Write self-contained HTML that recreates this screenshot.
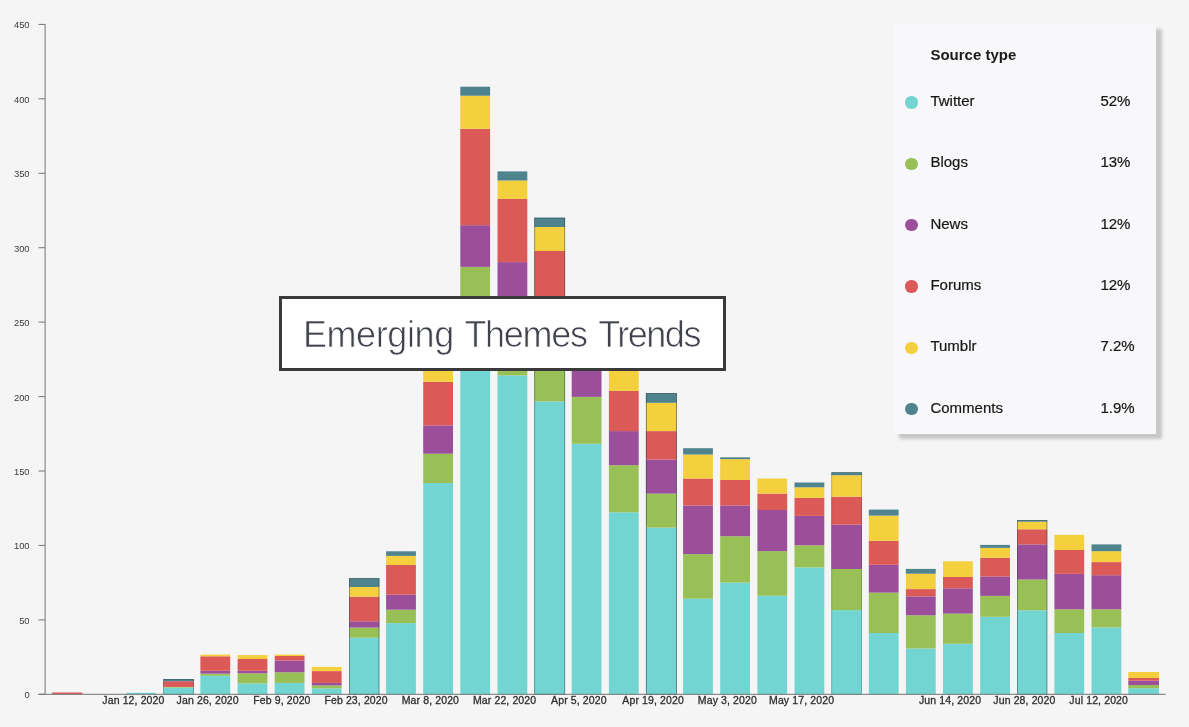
<!DOCTYPE html>
<html lang="en">
<head>
<meta charset="utf-8">
<title>Emerging Themes Trends</title>
<style>
html,body{margin:0;padding:0}
body{width:1189px;height:727px;overflow:hidden;background:#f5f5f5;position:relative;font-family:"Liberation Sans",sans-serif}
.yl{font-family:"Liberation Sans",sans-serif;font-size:9.4px;fill:#3a3a3a}
.xl{font-family:"Liberation Sans",sans-serif;font-size:10.5px;fill:#2f2f2f;letter-spacing:0.12px;stroke:#2f2f2f;stroke-width:0.3px}
#legend{position:absolute;left:893px;top:24px;width:263px;height:410px;background:#f8f8fa;box-shadow:6px 5px 3px rgba(0,0,0,0.19)}
#legend h3{position:absolute;left:37.4px;top:22px;margin:0;font-size:15px;line-height:18px;font-weight:bold;color:#1a1a1a}
.row{position:absolute;left:0;width:263px;height:20px;line-height:20px;font-size:15px;color:#161616;-webkit-text-stroke:0.2px #161616}
.dot{position:absolute;left:12.2px;top:5.4px;width:12.4px;height:12.4px;border-radius:50%}
.nm{position:absolute;left:37.4px;top:0}
.pc{position:absolute;left:207.4px;top:0}
#title{position:absolute;left:279px;top:296px;width:441px;height:69px;border:3px solid #3a3a3a;background:#fff;}
#title span{position:absolute;top:15px;font-size:36px;line-height:normal;color:#40434d;white-space:nowrap;-webkit-text-stroke:0.7px #fff}
</style>
</head>
<body>
<svg width="1189" height="727" viewBox="0 0 1189 727" style="position:absolute;left:0;top:0">
<rect x="52.1" y="692.5" width="30.3" height="1.8" fill="#db5957"/>
<rect x="126.2" y="692.8" width="29.8" height="1.5" fill="#72d5d2"/>
<rect x="163.2" y="687.6" width="30.8" height="6.7" fill="#72d5d2"/>
<rect x="163.2" y="686.9" width="30.8" height="0.7" fill="#98c056"/>
<rect x="163.2" y="681.2" width="30.8" height="5.7" fill="#db5957"/>
<rect x="163.2" y="679.0" width="30.8" height="2.2" fill="#4f838e"/>
<rect x="163.6" y="679.4" width="30.0" height="14.9" fill="none" stroke="#33474d" stroke-width="0.8" stroke-opacity="0.45"/>
<rect x="200.4" y="675.7" width="29.8" height="18.6" fill="#72d5d2"/>
<rect x="200.4" y="673.6" width="29.8" height="2.1" fill="#98c056"/>
<rect x="200.4" y="670.8" width="29.8" height="2.8" fill="#9b4f9b"/>
<rect x="200.4" y="656.3" width="29.8" height="14.5" fill="#db5957"/>
<rect x="200.4" y="654.6" width="29.8" height="1.7" fill="#f4d03f"/>
<rect x="237.6" y="683.4" width="29.8" height="10.9" fill="#72d5d2"/>
<rect x="237.6" y="673.3" width="29.8" height="10.1" fill="#98c056"/>
<rect x="237.6" y="670.8" width="29.8" height="2.5" fill="#9b4f9b"/>
<rect x="237.6" y="659.0" width="29.8" height="11.8" fill="#db5957"/>
<rect x="237.6" y="655.1" width="29.8" height="3.9" fill="#f4d03f"/>
<rect x="274.7" y="682.9" width="29.8" height="11.4" fill="#72d5d2"/>
<rect x="274.7" y="672.3" width="29.8" height="10.6" fill="#98c056"/>
<rect x="274.7" y="660.5" width="29.8" height="11.8" fill="#9b4f9b"/>
<rect x="274.7" y="656.0" width="29.8" height="4.5" fill="#db5957"/>
<rect x="274.7" y="654.6" width="29.8" height="1.4" fill="#f4d03f"/>
<rect x="311.8" y="688.4" width="29.8" height="5.9" fill="#72d5d2"/>
<rect x="311.8" y="685.4" width="29.8" height="3.0" fill="#98c056"/>
<rect x="311.8" y="682.9" width="29.8" height="2.5" fill="#9b4f9b"/>
<rect x="311.8" y="671.1" width="29.8" height="11.8" fill="#db5957"/>
<rect x="311.8" y="666.9" width="29.8" height="4.2" fill="#f4d03f"/>
<rect x="349.0" y="637.7" width="30.4" height="56.6" fill="#72d5d2"/>
<rect x="349.0" y="627.6" width="30.4" height="10.1" fill="#98c056"/>
<rect x="349.0" y="621.3" width="30.4" height="6.3" fill="#9b4f9b"/>
<rect x="349.0" y="596.6" width="30.4" height="24.7" fill="#db5957"/>
<rect x="349.0" y="587.0" width="30.4" height="9.6" fill="#f4d03f"/>
<rect x="349.0" y="578.2" width="30.4" height="8.8" fill="#4f838e"/>
<rect x="349.4" y="578.6" width="29.6" height="115.7" fill="none" stroke="#33474d" stroke-width="0.8" stroke-opacity="0.6"/>
<rect x="386.1" y="623.1" width="29.8" height="71.2" fill="#72d5d2"/>
<rect x="386.1" y="609.7" width="29.8" height="13.4" fill="#98c056"/>
<rect x="386.1" y="594.6" width="29.8" height="15.1" fill="#9b4f9b"/>
<rect x="386.1" y="565.0" width="29.8" height="29.6" fill="#db5957"/>
<rect x="386.1" y="555.9" width="29.8" height="9.1" fill="#f4d03f"/>
<rect x="386.1" y="551.3" width="29.8" height="4.6" fill="#4f838e"/>
<rect x="423.2" y="483.0" width="29.8" height="211.3" fill="#72d5d2"/>
<rect x="423.2" y="453.7" width="29.8" height="29.3" fill="#98c056"/>
<rect x="423.2" y="425.4" width="29.8" height="28.3" fill="#9b4f9b"/>
<rect x="423.2" y="381.8" width="29.8" height="43.6" fill="#db5957"/>
<rect x="423.2" y="340.0" width="29.8" height="41.8" fill="#f4d03f"/>
<rect x="423.2" y="335.0" width="29.8" height="5.0" fill="#4f838e"/>
<rect x="460.3" y="330.0" width="29.8" height="364.3" fill="#72d5d2"/>
<rect x="460.3" y="266.9" width="29.8" height="63.1" fill="#98c056"/>
<rect x="460.3" y="225.2" width="29.8" height="41.7" fill="#9b4f9b"/>
<rect x="460.3" y="128.8" width="29.8" height="96.4" fill="#db5957"/>
<rect x="460.3" y="95.7" width="29.8" height="33.1" fill="#f4d03f"/>
<rect x="460.3" y="86.7" width="29.8" height="9.0" fill="#4f838e"/>
<rect x="497.5" y="375.4" width="29.8" height="318.9" fill="#72d5d2"/>
<rect x="497.5" y="330.0" width="29.8" height="45.4" fill="#98c056"/>
<rect x="497.5" y="262.1" width="29.8" height="67.9" fill="#9b4f9b"/>
<rect x="497.5" y="198.9" width="29.8" height="63.2" fill="#db5957"/>
<rect x="497.5" y="180.5" width="29.8" height="18.4" fill="#f4d03f"/>
<rect x="497.5" y="171.4" width="29.8" height="9.1" fill="#4f838e"/>
<rect x="534.3" y="401.4" width="30.8" height="292.9" fill="#72d5d2"/>
<rect x="534.3" y="345.0" width="30.8" height="56.4" fill="#98c056"/>
<rect x="534.3" y="320.0" width="30.8" height="25.0" fill="#9b4f9b"/>
<rect x="534.3" y="251.0" width="30.8" height="69.0" fill="#db5957"/>
<rect x="534.3" y="227.0" width="30.8" height="24.0" fill="#f4d03f"/>
<rect x="534.3" y="217.7" width="30.8" height="9.3" fill="#4f838e"/>
<rect x="534.7" y="218.1" width="30.0" height="476.2" fill="none" stroke="#33474d" stroke-width="0.8" stroke-opacity="0.6"/>
<rect x="571.7" y="443.8" width="29.8" height="250.5" fill="#72d5d2"/>
<rect x="571.7" y="396.9" width="29.8" height="46.9" fill="#98c056"/>
<rect x="571.7" y="355.0" width="29.8" height="41.9" fill="#9b4f9b"/>
<rect x="571.7" y="330.0" width="29.8" height="25.0" fill="#db5957"/>
<rect x="571.7" y="315.0" width="29.8" height="15.0" fill="#f4d03f"/>
<rect x="571.7" y="310.0" width="29.8" height="5.0" fill="#4f838e"/>
<rect x="608.9" y="512.3" width="29.8" height="182.0" fill="#72d5d2"/>
<rect x="608.9" y="465.2" width="29.8" height="47.1" fill="#98c056"/>
<rect x="608.9" y="431.1" width="29.8" height="34.1" fill="#9b4f9b"/>
<rect x="608.9" y="390.9" width="29.8" height="40.2" fill="#db5957"/>
<rect x="608.9" y="350.0" width="29.8" height="40.9" fill="#f4d03f"/>
<rect x="608.9" y="345.0" width="29.8" height="5.0" fill="#4f838e"/>
<rect x="645.9" y="527.6" width="30.9" height="166.7" fill="#72d5d2"/>
<rect x="645.9" y="493.6" width="30.9" height="34.0" fill="#98c056"/>
<rect x="645.9" y="459.6" width="30.9" height="34.0" fill="#9b4f9b"/>
<rect x="645.9" y="431.1" width="30.9" height="28.5" fill="#db5957"/>
<rect x="645.9" y="402.8" width="30.9" height="28.3" fill="#f4d03f"/>
<rect x="645.9" y="393.2" width="30.9" height="9.6" fill="#4f838e"/>
<rect x="646.3" y="393.6" width="30.1" height="300.7" fill="none" stroke="#33474d" stroke-width="0.8" stroke-opacity="0.7"/>
<rect x="683.1" y="598.7" width="29.8" height="95.6" fill="#72d5d2"/>
<rect x="683.1" y="554.1" width="29.8" height="44.6" fill="#98c056"/>
<rect x="683.1" y="505.5" width="29.8" height="48.6" fill="#9b4f9b"/>
<rect x="683.1" y="478.5" width="29.8" height="27.0" fill="#db5957"/>
<rect x="683.1" y="454.5" width="29.8" height="24.0" fill="#f4d03f"/>
<rect x="683.1" y="448.2" width="29.8" height="6.3" fill="#4f838e"/>
<rect x="720.2" y="582.6" width="29.8" height="111.7" fill="#72d5d2"/>
<rect x="720.2" y="536.2" width="29.8" height="46.4" fill="#98c056"/>
<rect x="720.2" y="505.5" width="29.8" height="30.7" fill="#9b4f9b"/>
<rect x="720.2" y="480.0" width="29.8" height="25.5" fill="#db5957"/>
<rect x="720.2" y="459.1" width="29.8" height="20.9" fill="#f4d03f"/>
<rect x="720.2" y="457.3" width="29.8" height="1.8" fill="#4f838e"/>
<rect x="757.4" y="595.7" width="29.8" height="98.6" fill="#72d5d2"/>
<rect x="757.4" y="551.1" width="29.8" height="44.6" fill="#98c056"/>
<rect x="757.4" y="510.0" width="29.8" height="41.1" fill="#9b4f9b"/>
<rect x="757.4" y="493.6" width="29.8" height="16.4" fill="#db5957"/>
<rect x="757.4" y="478.5" width="29.8" height="15.1" fill="#f4d03f"/>
<rect x="794.5" y="567.4" width="29.8" height="126.9" fill="#72d5d2"/>
<rect x="794.5" y="545.3" width="29.8" height="22.1" fill="#98c056"/>
<rect x="794.5" y="515.9" width="29.8" height="29.4" fill="#9b4f9b"/>
<rect x="794.5" y="497.9" width="29.8" height="18.0" fill="#db5957"/>
<rect x="794.5" y="487.3" width="29.8" height="10.6" fill="#f4d03f"/>
<rect x="794.5" y="482.5" width="29.8" height="4.8" fill="#4f838e"/>
<rect x="831.3" y="610.1" width="30.7" height="84.2" fill="#72d5d2"/>
<rect x="831.3" y="569.0" width="30.7" height="41.1" fill="#98c056"/>
<rect x="831.3" y="524.6" width="30.7" height="44.4" fill="#9b4f9b"/>
<rect x="831.3" y="496.7" width="30.7" height="27.9" fill="#db5957"/>
<rect x="831.3" y="475.2" width="30.7" height="21.5" fill="#f4d03f"/>
<rect x="831.3" y="472.2" width="30.7" height="3.0" fill="#4f838e"/>
<rect x="831.7" y="472.6" width="29.9" height="221.7" fill="none" stroke="#33474d" stroke-width="0.8" stroke-opacity="0.35"/>
<rect x="868.8" y="633.0" width="29.8" height="61.3" fill="#72d5d2"/>
<rect x="868.8" y="592.6" width="29.8" height="40.4" fill="#98c056"/>
<rect x="868.8" y="564.8" width="29.8" height="27.8" fill="#9b4f9b"/>
<rect x="868.8" y="540.9" width="29.8" height="23.9" fill="#db5957"/>
<rect x="868.8" y="515.6" width="29.8" height="25.3" fill="#f4d03f"/>
<rect x="868.8" y="509.6" width="29.8" height="6.0" fill="#4f838e"/>
<rect x="905.9" y="648.4" width="29.8" height="45.9" fill="#72d5d2"/>
<rect x="905.9" y="615.3" width="29.8" height="33.1" fill="#98c056"/>
<rect x="905.9" y="596.4" width="29.8" height="18.9" fill="#9b4f9b"/>
<rect x="905.9" y="589.1" width="29.8" height="7.3" fill="#db5957"/>
<rect x="905.9" y="573.7" width="29.8" height="15.4" fill="#f4d03f"/>
<rect x="905.9" y="568.9" width="29.8" height="4.8" fill="#4f838e"/>
<rect x="943.0" y="643.8" width="29.8" height="50.5" fill="#72d5d2"/>
<rect x="943.0" y="613.6" width="29.8" height="30.2" fill="#98c056"/>
<rect x="943.0" y="588.3" width="29.8" height="25.3" fill="#9b4f9b"/>
<rect x="943.0" y="577.0" width="29.8" height="11.3" fill="#db5957"/>
<rect x="943.0" y="561.3" width="29.8" height="15.7" fill="#f4d03f"/>
<rect x="980.2" y="616.8" width="29.8" height="77.5" fill="#72d5d2"/>
<rect x="980.2" y="595.9" width="29.8" height="20.9" fill="#98c056"/>
<rect x="980.2" y="576.5" width="29.8" height="19.4" fill="#9b4f9b"/>
<rect x="980.2" y="557.8" width="29.8" height="18.7" fill="#db5957"/>
<rect x="980.2" y="547.9" width="29.8" height="9.9" fill="#f4d03f"/>
<rect x="980.2" y="544.9" width="29.8" height="3.0" fill="#4f838e"/>
<rect x="1017.0" y="610.3" width="30.3" height="84.0" fill="#72d5d2"/>
<rect x="1017.0" y="579.5" width="30.3" height="30.8" fill="#98c056"/>
<rect x="1017.0" y="544.4" width="30.3" height="35.1" fill="#9b4f9b"/>
<rect x="1017.0" y="529.3" width="30.3" height="15.1" fill="#db5957"/>
<rect x="1017.0" y="521.7" width="30.3" height="7.6" fill="#f4d03f"/>
<rect x="1017.0" y="520.2" width="30.3" height="1.5" fill="#4f838e"/>
<rect x="1017.4" y="520.6" width="29.5" height="173.7" fill="none" stroke="#33474d" stroke-width="0.8" stroke-opacity="0.6"/>
<rect x="1054.4" y="633.0" width="29.8" height="61.3" fill="#72d5d2"/>
<rect x="1054.4" y="609.3" width="29.8" height="23.7" fill="#98c056"/>
<rect x="1054.4" y="573.9" width="29.8" height="35.4" fill="#9b4f9b"/>
<rect x="1054.4" y="550.0" width="29.8" height="23.9" fill="#db5957"/>
<rect x="1054.4" y="534.8" width="29.8" height="15.2" fill="#f4d03f"/>
<rect x="1091.5" y="627.4" width="29.8" height="66.9" fill="#72d5d2"/>
<rect x="1091.5" y="609.3" width="29.8" height="18.1" fill="#98c056"/>
<rect x="1091.5" y="575.2" width="29.8" height="34.1" fill="#9b4f9b"/>
<rect x="1091.5" y="562.1" width="29.8" height="13.1" fill="#db5957"/>
<rect x="1091.5" y="551.2" width="29.8" height="10.9" fill="#f4d03f"/>
<rect x="1091.5" y="544.4" width="29.8" height="6.8" fill="#4f838e"/>
<rect x="1128.3" y="688.2" width="30.7" height="6.1" fill="#72d5d2"/>
<rect x="1128.3" y="685.1" width="30.7" height="3.1" fill="#98c056"/>
<rect x="1128.3" y="680.7" width="30.7" height="4.4" fill="#9b4f9b"/>
<rect x="1128.3" y="678.0" width="30.7" height="2.7" fill="#db5957"/>
<rect x="1128.3" y="672.0" width="30.7" height="6.0" fill="#f4d03f"/>
<rect x="44.6" y="24" width="1" height="670.8" fill="#757575"/>
<rect x="38.5" y="693.8" width="1127.2" height="1" fill="#757575"/>
<rect x="38.5" y="693.8" width="6.5" height="1" fill="#757575"/>
<text x="29.6" y="698.2" text-anchor="end" class="yl">0</text>
<rect x="38.5" y="619.4" width="6.5" height="1" fill="#757575"/>
<text x="29.6" y="623.8" text-anchor="end" class="yl">50</text>
<rect x="38.5" y="544.9" width="6.5" height="1" fill="#757575"/>
<text x="29.6" y="549.3" text-anchor="end" class="yl">100</text>
<rect x="38.5" y="470.5" width="6.5" height="1" fill="#757575"/>
<text x="29.6" y="474.9" text-anchor="end" class="yl">150</text>
<rect x="38.5" y="396.1" width="6.5" height="1" fill="#757575"/>
<text x="29.6" y="400.5" text-anchor="end" class="yl">200</text>
<rect x="38.5" y="321.6" width="6.5" height="1" fill="#757575"/>
<text x="29.6" y="326.0" text-anchor="end" class="yl">250</text>
<rect x="38.5" y="247.2" width="6.5" height="1" fill="#757575"/>
<text x="29.6" y="251.6" text-anchor="end" class="yl">300</text>
<rect x="38.5" y="172.8" width="6.5" height="1" fill="#757575"/>
<text x="29.6" y="177.2" text-anchor="end" class="yl">350</text>
<rect x="38.5" y="98.3" width="6.5" height="1" fill="#757575"/>
<text x="29.6" y="102.7" text-anchor="end" class="yl">400</text>
<rect x="38.5" y="23.9" width="6.5" height="1" fill="#757575"/>
<text x="29.6" y="28.3" text-anchor="end" class="yl">450</text>
<text x="133.4" y="703.9" text-anchor="middle" class="xl">Jan 12, 2020</text>
<text x="207.7" y="703.9" text-anchor="middle" class="xl">Jan 26, 2020</text>
<text x="281.9" y="703.9" text-anchor="middle" class="xl">Feb 9, 2020</text>
<text x="356.1" y="703.9" text-anchor="middle" class="xl">Feb 23, 2020</text>
<text x="430.4" y="703.9" text-anchor="middle" class="xl">Mar 8, 2020</text>
<text x="504.6" y="703.9" text-anchor="middle" class="xl">Mar 22, 2020</text>
<text x="578.9" y="703.9" text-anchor="middle" class="xl">Apr 5, 2020</text>
<text x="653.1" y="703.9" text-anchor="middle" class="xl">Apr 19, 2020</text>
<text x="727.4" y="703.9" text-anchor="middle" class="xl">May 3, 2020</text>
<text x="801.6" y="703.9" text-anchor="middle" class="xl">May 17, 2020</text>
<text x="950.1" y="703.9" text-anchor="middle" class="xl">Jun 14, 2020</text>
<text x="1024.4" y="703.9" text-anchor="middle" class="xl">Jun 28, 2020</text>
<text x="1098.7" y="703.9" text-anchor="middle" class="xl">Jul 12, 2020</text>
</svg>
<div id="legend">
<h3>Source type</h3>
<div class="row" style="top:67.0px"><span class="dot" style="background:#72d5d2"></span><span class="nm">Twitter</span><span class="pc">52%</span></div>
<div class="row" style="top:128.3px"><span class="dot" style="background:#98c056"></span><span class="nm">Blogs</span><span class="pc">13%</span></div>
<div class="row" style="top:189.6px"><span class="dot" style="background:#9b4f9b"></span><span class="nm">News</span><span class="pc">12%</span></div>
<div class="row" style="top:250.9px"><span class="dot" style="background:#db5957"></span><span class="nm">Forums</span><span class="pc">12%</span></div>
<div class="row" style="top:312.2px"><span class="dot" style="background:#f4d03f"></span><span class="nm">Tumblr</span><span class="pc">7.2%</span></div>
<div class="row" style="top:373.5px"><span class="dot" style="background:#4f838e"></span><span class="nm">Comments</span><span class="pc">1.9%</span></div>
</div>
<div id="title"><span style="left:20.9px;letter-spacing:-0.4px">Emerging </span><span style="left:182.4px;letter-spacing:-1.3px">Themes </span><span style="left:316.2px;letter-spacing:-1.5px">Trends</span></div>
</body>
</html>
